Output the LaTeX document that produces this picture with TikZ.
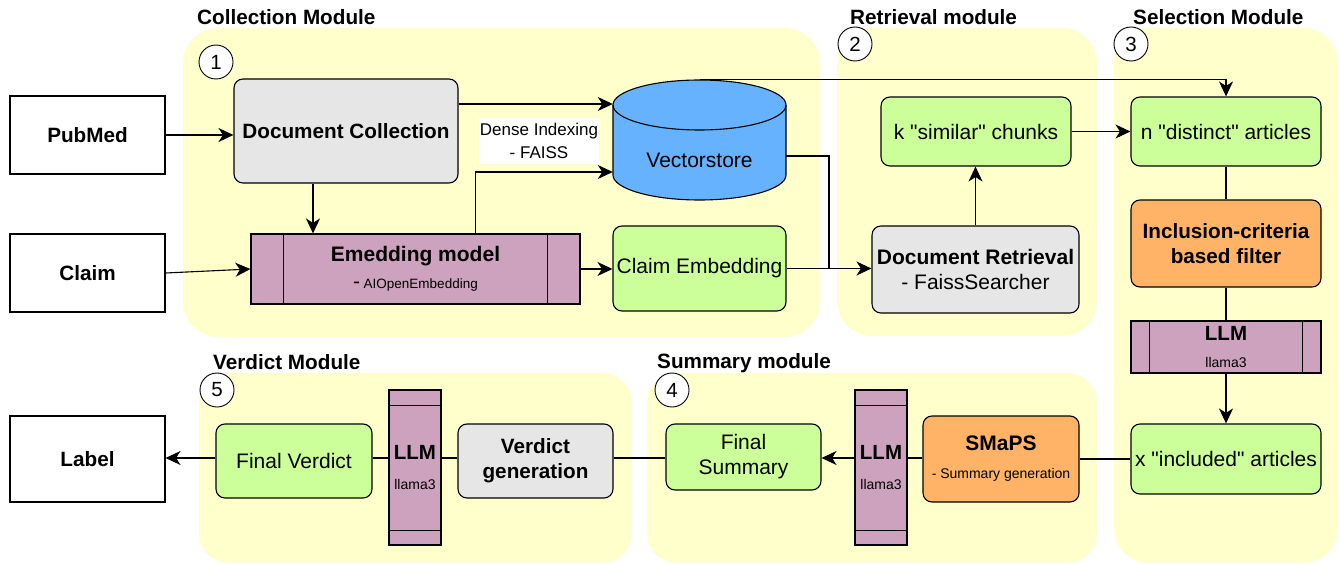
\documentclass[tikz,border=0pt]{standalone}
\usepackage{fontspec}
\setmainfont{Liberation Sans}[Ligatures=TeXOff]
\usetikzlibrary{arrows.meta,calc}
\definecolor{bgy}{HTML}{FFFFCC}
\definecolor{gry}{HTML}{E6E6E6}
\definecolor{grn}{HTML}{CCFF99}
\definecolor{blu}{HTML}{66B2FF}
\definecolor{org}{HTML}{FFB366}
\definecolor{pur}{HTML}{CDA2BE}
\begin{document}
\begin{tikzpicture}[x=1pt,y=-1pt,
  every node/.style={font=\fontsize{21}{25}\selectfont},
  box/.style={draw, line width=1.1pt, rounded corners=9pt, align=center, inner sep=1pt},
  sq/.style={draw, line width=1.1pt, align=center, inner sep=1pt},
  bold/.style={font=\bfseries\fontsize{20.7}{25}\selectfont},
  title/.style={anchor=west, font=\bfseries\fontsize{20.7}{25}\selectfont, inner sep=0},
  num/.style={draw, circle, line width=0.9pt, minimum size=34pt, inner sep=0, fill=white, font=\fontsize{20.5}{24}\selectfont},
  arr/.style={-{Stealth[length=15pt,width=14pt,inset=4.5pt]}, line width=1.1pt},
  ln/.style={line width=1.1pt},
  modbg/.style={fill=bgy, rounded corners=35pt},
]
\useasboundingbox (0,0) rectangle (1340,564);
% module backgrounds
\fill[modbg] (183,28) rectangle (820,337);
\fill[modbg] (837,28) rectangle (1097,336);
\fill[modbg] (1114,28) rectangle (1338,563);
\fill[modbg, rounded corners=30pt] (199,373) rectangle (632,563);
\fill[modbg, rounded corners=30pt] (647,373) rectangle (1097,563);
% titles
\node[title] (t1) at (197,17) {Collection Module};
\node[title] (t2) at (850,17) {Retrieval module};
\node[title] (t3) at (1133,17) {Selection Module};
\node[title] (t5) at (213,362) {Verdict Module};
\node[title] (t4) at (657,363) {Summary module};
% numbers
\node[num] (n1) at (216,62) {1};
\node[num] (n2) at (855,44) {2};
\node[num] (n3) at (1131,44) {3};
\node[num] (n4) at (672,390) {4};
\node[num] (n5) at (217,390) {5};
% inputs / outputs
\node[sq, bold, minimum width=155, minimum height=78] (pm) at (87.5,135) {PubMed};
\node[sq, bold, minimum width=155, minimum height=78] (cl) at (87.5,273) {Claim};
\node[sq, bold, minimum width=155, minimum height=86] (lb) at (87.5,459) {Label};
% collection module
\node[box, bold, fill=gry, minimum width=224, minimum height=104] (dc) at (346,131) {Document Collection};
\node[sq, fill=pur, minimum width=329, minimum height=70] (emb) at (415.5,269)
  {\textbf{Emedding model}\\[2pt]{\fontsize{21}{21}\selectfont -}\,{\fontsize{13.5}{15}\selectfont AIOpenEmbedding}};
\draw[ln] ([xshift=33pt]emb.north west) -- ([xshift=33pt]emb.south west);
\draw[ln] ([xshift=-33pt]emb.north east) -- ([xshift=-33pt]emb.south east);
\fill[blu] (613,105) -- (613,175) .. controls (613,188.8) and (651.7,200) .. (699.5,200)
  .. controls (747.3,200) and (786,188.8) .. (786,175) -- (786,105)
  .. controls (786,91.2) and (747.3,80) .. (699.5,80) .. controls (651.7,80) and (613,91.2) .. (613,105) -- cycle;
\draw[ln] (613,105) -- (613,175) .. controls (613,188.8) and (651.7,200) .. (699.5,200)
  .. controls (747.3,200) and (786,188.8) .. (786,175) -- (786,105)
  .. controls (786,91.2) and (747.3,80) .. (699.5,80) .. controls (651.7,80) and (613,91.2) .. (613,105) -- cycle;
\draw[ln] (613,105) .. controls (613,118.8) and (651.7,130) .. (699.5,130) .. controls (747.3,130) and (786,118.8) .. (786,105);
\node[minimum width=173, minimum height=121, inner sep=0] (vs) at (699.5,140) {};
\node (vst) at (699.5,160) {Vectorstore};
\node[box, fill=grn, minimum width=173, minimum height=85] (ce) at (699.5,268.5) {Claim Embedding};
\node[fill=white, inner sep=1pt, minimum width=119, minimum height=46, align=center, font=\fontsize{17}{23}\selectfont] (di) at (539,141) {Dense Indexing\\- FAISS};
% retrieval module
\node[box, fill=grn, minimum width=190, minimum height=69] (ks) at (976,131.5) {k "similar" chunks};
\node[box, fill=gry, minimum width=207, minimum height=87] (dr) at (975.5,269.5) {\textbf{Document Retrieval}\\- FaissSearcher};
% selection module
\node[box, fill=grn, minimum width=190, minimum height=69] (nd) at (1226,131.5) {n "distinct" articles};
\node[box, bold, fill=org, minimum width=190, minimum height=87] (inc) at (1226,243.5) {Inclusion-criteria\\based filter};
\node[sq, fill=pur, minimum width=190, minimum height=52, inner sep=0] (llm1) at (1226,347)
  {{\bfseries\fontsize{20.5}{24}\selectfont LLM}\\[2pt]{\fontsize{14}{16}\selectfont llama3}};
\draw[ln] ([xshift=19pt]llm1.north west) -- ([xshift=19pt]llm1.south west);
\draw[ln] ([xshift=-19pt]llm1.north east) -- ([xshift=-19pt]llm1.south east);
\node[box, fill=grn, minimum width=190, minimum height=70] (xi) at (1226,459) {x "included" articles};
% summary module
\node[box, fill=org, minimum width=156, minimum height=86] (sm) at (1001,459)
  {\textbf{SMaPS}\\[3pt]{\fontsize{14}{16}\selectfont - Summary generation}};
\node[sq, fill=pur, minimum width=52, minimum height=155, inner sep=0] (llm2) at (881,467.5)
  {{\bfseries\fontsize{20.5}{24}\selectfont LLM}\\[5pt]{\fontsize{14}{16}\selectfont llama3}};
\draw[ln] ([yshift=-16pt]llm2.north west) -- ([yshift=-16pt]llm2.north east);
\draw[ln] ([yshift=15pt]llm2.south west) -- ([yshift=15pt]llm2.south east);
\node[box, fill=grn, minimum width=155, minimum height=66] (fs) at (743.5,457) {Final\\Summary};
% verdict module
\node[box, bold, fill=gry, minimum width=155, minimum height=74] (vg) at (535.5,461) {Verdict\\generation};
\node[sq, fill=pur, minimum width=52, minimum height=155, inner sep=0] (llm3) at (415,467.5)
  {{\bfseries\fontsize{20.5}{24}\selectfont LLM}\\[5pt]{\fontsize{14}{16}\selectfont llama3}};
\draw[ln] ([yshift=-16pt]llm3.north west) -- ([yshift=-16pt]llm3.north east);
\draw[ln] ([yshift=15pt]llm3.south west) -- ([yshift=15pt]llm3.south east);
\node[box, fill=grn, minimum width=156, minimum height=74] (fv) at (294,461) {Final Verdict};
% connectors
\draw[arr] (pm.east) -- (dc.west |- pm.east);
\draw[arr] (cl.east) -- (emb.west);
\coordinate (dcb) at ([xshift=-33pt]dc.south);
\draw[arr] (dcb) -- (dcb |- emb.north);
\draw[arr] ([yshift=27pt]dc.east) -- ([yshift=27pt]dc.east -| vs.west);
\coordinate (embt) at ([xshift=60pt]emb.north);
\draw[arr] (embt) |- ([yshift=-32pt]vs.west);
\draw[arr] (emb.east) -- (ce.west |- emb.east);
\coordinate (jn) at (829,268.5);
\draw[ln] ([yshift=-16pt]vs.east) -| (jn);
\draw[arr] (ce.east) -- (dr.west |- ce.east);
\draw[arr] (vs.north) -| (nd.north);
\draw[arr] (dr.north) -- (dr.north |- ks.south);
\draw[arr] (ks.east) -- (nd.west);
\draw[ln] (nd.south) -- (inc.north);
\draw[ln] (inc.south) -- (llm1.north);
\draw[arr] (llm1.south) -- (xi.north);
\draw[ln] (xi.west) -- (sm.east);
\coordinate (row) at (0,458);
\draw[ln] (sm.west |- row) -- (llm2.east |- row);
\draw[arr] (llm2.west |- row) -- (fs.east |- row);
\draw[ln] (fs.west |- row) -- (vg.east |- row);
\draw[ln] (vg.west |- row) -- (llm3.east |- row);
\draw[ln] (llm3.west |- row) -- (fv.east |- row);
\draw[arr] (fv.west |- row) -- (lb.east |- row);
\end{tikzpicture}
\end{document}
